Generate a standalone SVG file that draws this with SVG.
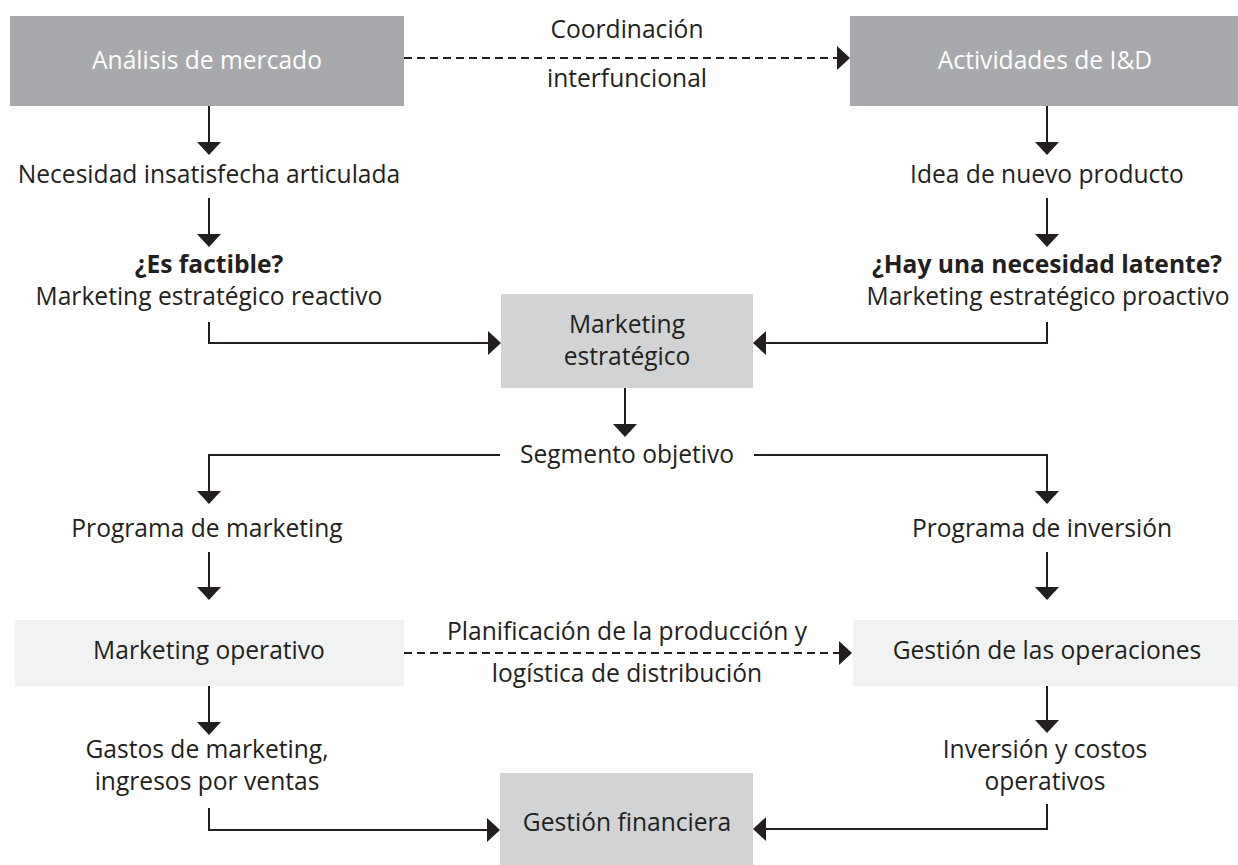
<svg xmlns="http://www.w3.org/2000/svg" width="1238" height="865" viewBox="0 0 1238 865">
<style>
text{font-family:"Open Sans","Liberation Sans",sans-serif;font-size:24.6px;fill:#231f20;text-anchor:middle}
.w{fill:#ffffff}
.b{font-weight:bold}
.dark{fill:#a7a9ac}
.mid{fill:#d1d3d4}
.light{fill:#f1f2f2}
.ln{fill:none;stroke:#231f20;stroke-width:2}
.dash{stroke-dasharray:8 5}
</style>
<defs>
<marker id="ah" viewBox="0 0 13 24" refX="7" refY="12" markerWidth="13" markerHeight="24" markerUnits="userSpaceOnUse" orient="auto">
<path d="M0,0 L13,12 L0,24 Z" fill="#231f20"/>
</marker>
</defs>
<rect width="1238" height="865" fill="#ffffff"/>
<g id="connectors">
<path class="ln dash" d="M404,58 H844" marker-end="url(#ah)"/>
<path class="ln" d="M209,106 V149" marker-end="url(#ah)"/>
<path class="ln" d="M209,198 V241" marker-end="url(#ah)"/>
<path class="ln" d="M1047,106 V149" marker-end="url(#ah)"/>
<path class="ln" d="M1047,198 V241" marker-end="url(#ah)"/>
<path class="ln" d="M209,322 V343 H495" marker-end="url(#ah)"/>
<path class="ln" d="M1047,322 V343 H759" marker-end="url(#ah)"/>
<path class="ln" d="M625,388 V431" marker-end="url(#ah)"/>
<path class="ln" d="M500,455 H209 V498" marker-end="url(#ah)"/>
<path class="ln" d="M754,455 H1047 V498" marker-end="url(#ah)"/>
<path class="ln" d="M209,552 V594" marker-end="url(#ah)"/>
<path class="ln" d="M1047,552 V594" marker-end="url(#ah)"/>
<path class="ln dash" d="M404,653 H846" marker-end="url(#ah)"/>
<path class="ln" d="M209,686 V729" marker-end="url(#ah)"/>
<path class="ln" d="M1047,686 V727" marker-end="url(#ah)"/>
<path class="ln" d="M209,808 V830 H494" marker-end="url(#ah)"/>
<path class="ln" d="M1047,804 V829 H759" marker-end="url(#ah)"/>
</g>
<g id="analisis">
<rect class="dark" x="10" y="16" width="394" height="90"/>
<text class="w" x="207" y="69">Análisis de mercado</text>
</g>
<g id="actividades">
<rect class="dark" x="850" y="16" width="388" height="90"/>
<text class="w" x="1045" y="69">Actividades de I&amp;D</text>
</g>
<g id="coordinacion">
<text x="627" y="38">Coordinación</text>
<text x="627" y="87">interfuncional</text>
</g>
<g id="necesidad">
<text x="209" y="183">Necesidad insatisfecha articulada</text>
</g>
<g id="idea">
<text x="1047" y="183">Idea de nuevo producto</text>
</g>
<g id="factible">
<text class="b" x="209" y="273">¿Es factible?</text>
<text x="209" y="305">Marketing estratégico reactivo</text>
</g>
<g id="latente">
<text class="b" x="1047" y="273">¿Hay una necesidad latente?</text>
<text x="1048" y="305">Marketing estratégico proactivo</text>
</g>
<g id="mkt-estrategico">
<rect class="mid" x="501" y="294" width="252" height="94"/>
<text x="627" y="333">Marketing</text>
<text x="627" y="365">estratégico</text>
</g>
<g id="segmento">
<text x="627" y="463">Segmento objetivo</text>
</g>
<g id="prog-marketing">
<text x="207" y="537">Programa de marketing</text>
</g>
<g id="prog-inversion">
<text x="1042" y="537">Programa de inversión</text>
</g>
<g id="mkt-operativo">
<rect class="light" x="15" y="620" width="389" height="66"/>
<text x="209" y="659">Marketing operativo</text>
</g>
<g id="gestion-operaciones">
<rect class="light" x="853" y="620" width="385" height="66"/>
<text x="1047" y="659">Gestión de las operaciones</text>
</g>
<g id="planificacion">
<text x="627" y="640">Planificación de la producción y</text>
<text x="627" y="682">logística de distribución</text>
</g>
<g id="gastos">
<text x="207" y="758">Gastos de marketing,</text>
<text x="207" y="790">ingresos por ventas</text>
</g>
<g id="inversion">
<text x="1045" y="758">Inversión y costos</text>
<text x="1045" y="790">operativos</text>
</g>
<g id="gestion-financiera">
<rect class="mid" x="500" y="773" width="253" height="92"/>
<text x="627" y="831">Gestión financiera</text>
</g>
</svg>
